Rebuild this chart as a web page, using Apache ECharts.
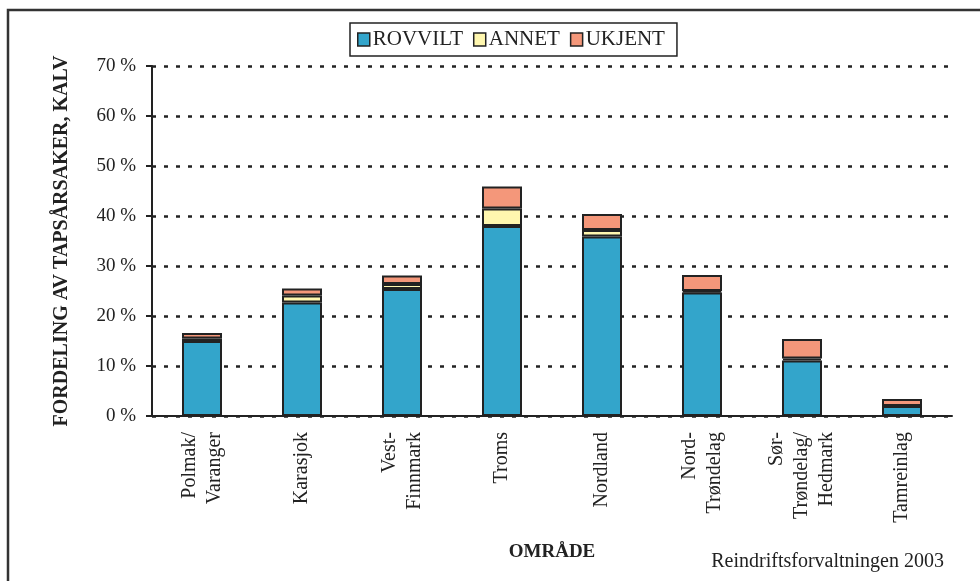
<!DOCTYPE html>
<html>
<head>
<meta charset="utf-8">
<script src="https://cdn.jsdelivr.net/npm/echarts@6/dist/echarts.min.js"></script>
<style>
  html, body { margin: 0; padding: 0; background: #fff; }
  #chart { width: 980px; height: 581px; }
</style>
</head>
<body>
<div id="chart"></div>
<script>
// områder (kategorier)
const categories = ['Polmak/\nVaranger', 'Karasjok', 'Vest-\nFinnmark', 'Troms', 'Nordland', 'Nord-\nTrøndelag', 'Sør-\nTrøndelag/\nHedmark', 'Tamreinlag'];
// andel tapsårsaker, prosent
const rovvilt = [15.0, 22.7, 25.4, 38.0, 35.9, 24.7, 11.1, 2.0];
const annet = [0.5, 1.4, 1.0, 3.5, 1.3, 0.3, 0.4, 0.0];
const ukjent = [1.1, 1.4, 1.7, 4.4, 3.2, 3.2, 3.9, 1.4];

const serif = '"Liberation Serif", "Times New Roman", serif';
const ink = '#222';

const chart = echarts.init(document.getElementById('chart'));

function bar(name, data, color) {
  return {
    name: name,
    type: 'bar',
    stack: 'total',
    data: data,
    barWidth: '40%',
    itemStyle: { color: color, borderColor: ink, borderWidth: 2 }
  };
}

const option = {
  animation: false,
  backgroundColor: '#fff',
  textStyle: { fontFamily: serif, color: ink },
  legend: {
    left: 350,
    top: 23,
    padding: [6, 12, 6, 7],
    borderColor: ink,
    borderWidth: 1.5,
    itemWidth: 12,
    itemHeight: 13,
    itemGap: 10,
    icon: 'rect',
    itemStyle: { borderWidth: 1.5 },
    textStyle: { fontFamily: serif, fontSize: 21, color: ink, padding: [0, 0, 0, -2] }
  },
  grid: { left: 152, right: 28, top: 66, bottom: 165 },
  xAxis: {
    type: 'category',
    data: categories,
    name: 'OMRÅDE',
    nameLocation: 'middle',
    nameGap: 127,
    nameTextStyle: { fontFamily: serif, fontSize: 19, fontWeight: 'bold', color: ink },
    axisLine: { lineStyle: { color: ink, width: 2 } },
    axisTick: { length: 8, lineStyle: { color: ink, width: 2 } },
    axisLabel: {
      interval: 0,
      rotate: 90,
      margin: 16,
      fontFamily: serif,
      fontSize: 20,
      lineHeight: 25,
      color: ink
    }
  },
  yAxis: {
    type: 'value',
    min: 0,
    max: 70,
    interval: 10,
    name: 'FORDELING AV TAPSÅRSAKER, KALV',
    nameLocation: 'middle',
    nameGap: 80,
    nameTextStyle: { fontFamily: serif, fontSize: 20, fontWeight: 'bold', color: ink },
    axisLine: { show: true, lineStyle: { color: ink, width: 2 } },
    axisTick: { show: true, length: 6, lineStyle: { color: ink, width: 2 } },
    axisLabel: { formatter: '{value} %', margin: 16, fontFamily: serif, fontSize: 19, color: ink },
    splitLine: { lineStyle: { color: ink, width: 2.5, type: [4, 8] } }
  },
  graphic: [
    {
      type: 'rect',
      shape: { x: 8, y: 10, width: 1000, height: 600 },
      style: { fill: 'none', stroke: '#333', lineWidth: 2.5 },
      silent: true
    },
    {
      type: 'text',
      right: 36,
      top: 552,
      style: { text: 'Reindriftsforvaltningen 2003', font: '20px ' + serif, fill: ink }
    }
  ],
  series: [
    bar('ROVVILT', rovvilt, '#33A5CB'),
    bar('ANNET', annet, '#FFF7AF'),
    bar('UKJENT', ukjent, '#F4977A')
  ]
};

chart.setOption(option);
</script>
</body>
</html>
